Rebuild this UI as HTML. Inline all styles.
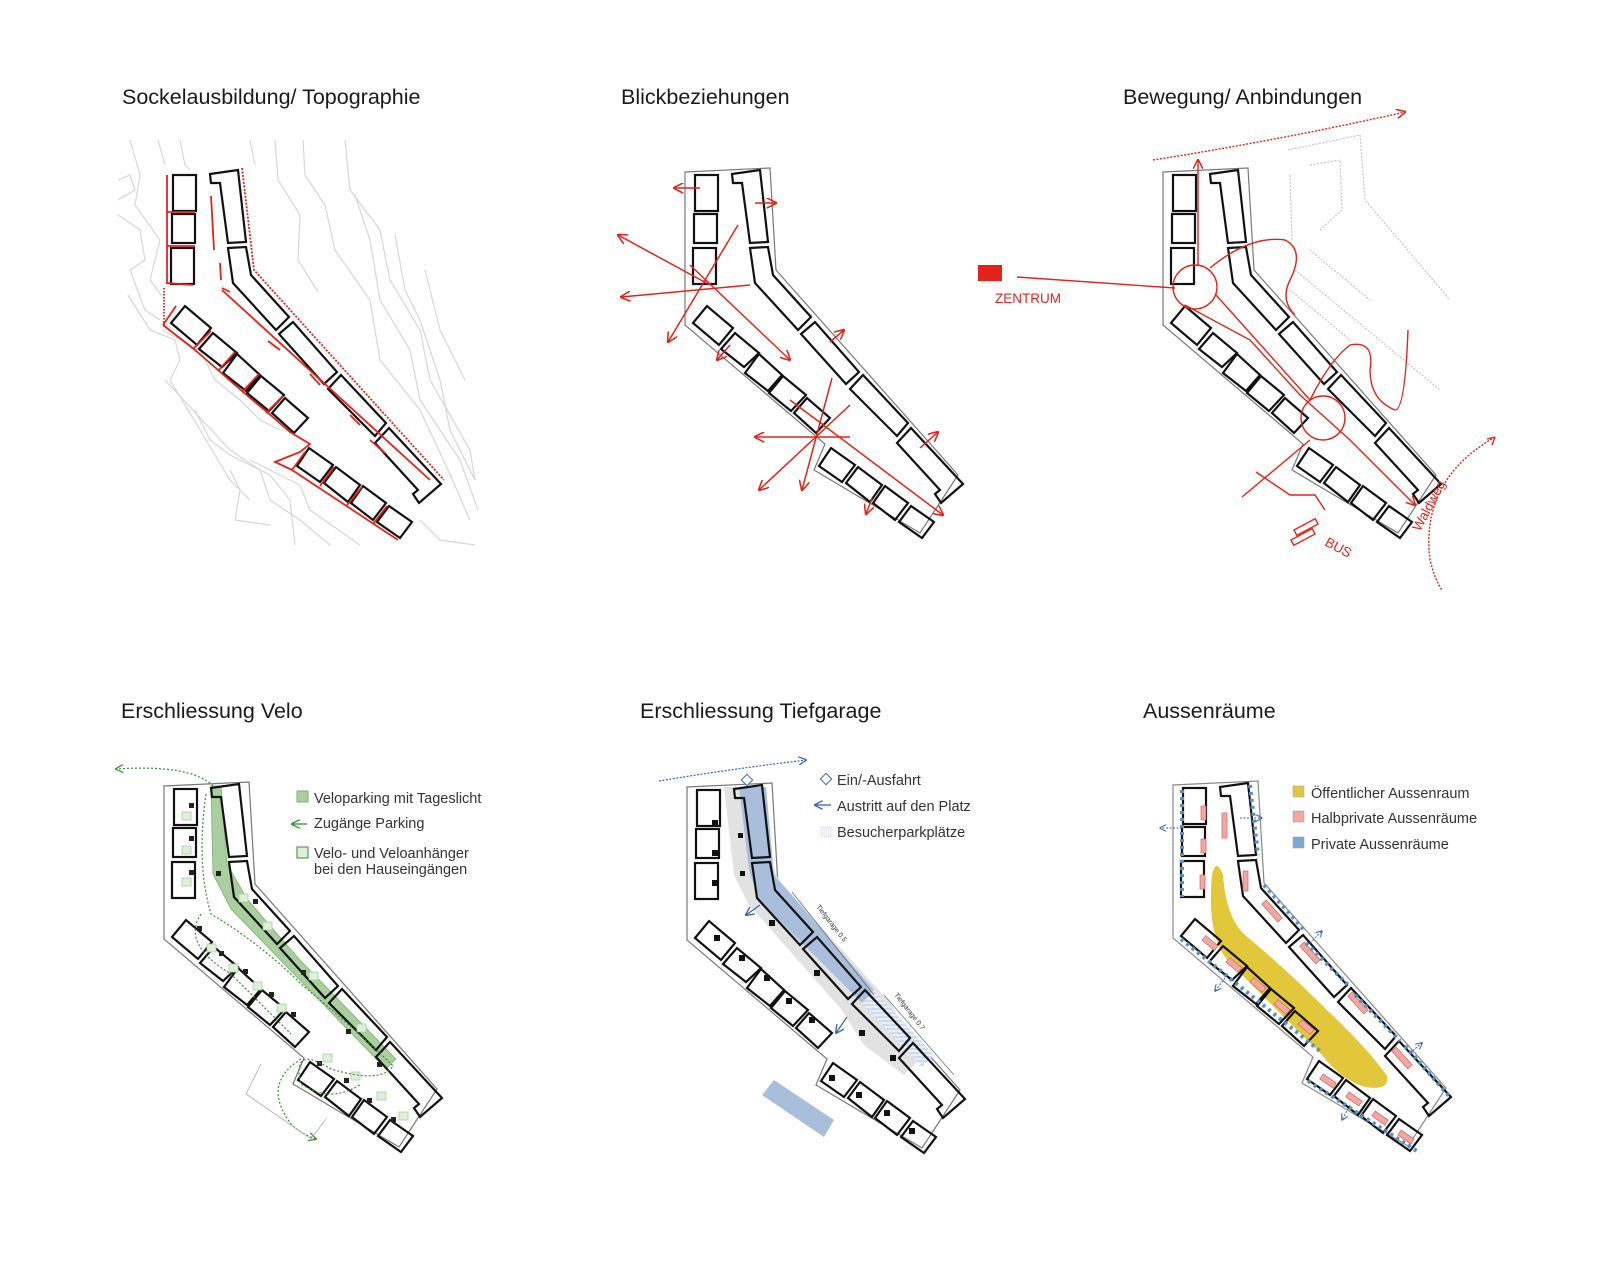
<!DOCTYPE html>
<html><head><meta charset="utf-8"><style>
html,body{margin:0;padding:0;background:#fff;}
svg{display:block;font-family:"Liberation Sans",sans-serif;}
.t{font-size:21.5px;fill:#1a1a1a;}
.l{font-size:14.5px;fill:#333;}
</style></head><body>
<svg width="1601" height="1280" viewBox="0 0 1601 1280" xmlns="http://www.w3.org/2000/svg">
<defs>
<g id="bld" fill="none" stroke="#111" stroke-width="2.2" stroke-linejoin="miter">
<rect x="173" y="175" width="23" height="36"/>
<rect x="172" y="214" width="23" height="29"/>
<rect x="171" y="248" width="23" height="36"/>
<polygon points="210,174 238,170 246,242 228,243 220,183 211,183"/>
<polygon points="228,248 246,247 251,275 289,317 276,330 233,283"/>
<polygon points="279,334 293,322 337,372 324,384"/>
<polygon points="328,389 341,375 386,423 375,436"/>
<polygon points="375,443 389,428 441,484 419,503 413,494 418,490"/>
<polygon points="171,323 185,306 211,328 197,345"/>
<polygon points="199,349 213,333 237,353 222,367"/>
<polygon points="223,373 237,354 260,375 246,391"/>
<polygon points="247,393 261,376 284,395 269,411"/>
<polygon points="272,413 285,398 308,418 294,433"/>
<polygon points="297,466 309,448 333,465 320,482"/>
<polygon points="324,483 336,467 360,485 348,502"/>
<polygon points="351,503 363,486 386,503 373,520"/>
<polygon points="377,522 389,506 412,522 400,538"/>
</g>
<polygon id="site" points="163,172 248,168 254,270 436,475 398,533 292,470 303,444 163,325" fill="none"/>
<marker id="ar" viewBox="0 0 10 10" refX="9" refY="5" markerWidth="7" markerHeight="7" orient="auto"><path d="M0,0 L10,5 L0,10" fill="none" stroke="#e3231b" stroke-width="1.5"/></marker>
<marker id="ab" viewBox="0 0 10 10" refX="9" refY="5" markerWidth="7" markerHeight="7" orient="auto"><path d="M0,0 L10,5 L0,10" fill="none" stroke="#3a64b0" stroke-width="1.5"/></marker>
<marker id="ag" viewBox="0 0 10 10" refX="9" refY="5" markerWidth="7" markerHeight="7" orient="auto"><path d="M0,0 L10,5 L0,10" fill="none" stroke="#3d8a35" stroke-width="1.5"/></marker>
<pattern id="hatch" width="4" height="4" patternUnits="userSpaceOnUse"><rect width="4" height="4" fill="#e8eef7"/><line x1="0" y1="2" x2="4" y2="2" stroke="#b9c8e2" stroke-width="1"/></pattern>
</defs>

<!-- titles -->
<text class="t" x="122" y="104">Sockelausbildung/ Topographie</text>
<text class="t" x="621" y="104">Blickbeziehungen</text>
<text class="t" x="1123" y="104">Bewegung/ Anbindungen</text>
<text class="t" x="121" y="718">Erschliessung Velo</text>
<text class="t" x="640" y="718">Erschliessung Tiefgarage</text>
<text class="t" x="1143" y="718">Aussenräume</text>

<!-- PANEL 1 -->
<g fill="none" stroke="#d6d6d6" stroke-width="1.2">
<path d="M130,140 L140,175 L135,205 L160,240 L150,280 L165,300"/>
<path d="M158,140 L165,165"/>
<path d="M180,140 L185,165 L190,170"/>
<path d="M250,140 L255,165"/>
<path d="M275,140 L278,180 L300,215 L298,260 L318,292"/>
<path d="M303,140 L305,175 L325,205 L335,250 L370,300 L380,360 L420,410 L448,470 L470,520"/>
<path d="M345,140 L350,190 L380,230 L390,280 L420,330 L430,380 L470,450 L475,480"/>
<path d="M355,195 L370,240 L380,300 L410,350 L420,400 L460,460 L478,510"/>
<path d="M395,235 L405,290 L420,320 L440,380 L450,430 L475,480"/>
<path d="M425,270 L440,330 L465,380"/>
<path d="M118,180 L130,175 L135,190 L118,200"/>
<path d="M118,215 L140,230 L145,260 L130,270 L145,310 L160,320"/>
<path d="M128,295 L150,330 L175,340 L180,360 L170,380 L200,430 L230,480 L250,500"/>
<path d="M165,380 L230,450 L260,470 L270,500 L300,520 L330,545"/>
<path d="M162,330 L200,350 L215,380 L240,400 L260,420 L280,430"/>
<path d="M195,410 L210,440 L230,455 L270,475 L290,500 L295,545"/>
<path d="M230,470 L240,490 L235,520 L270,525"/>
<path d="M250,460 L300,485 L310,510 L360,545"/>
<path d="M420,520 L440,540 L475,545"/>
</g>
<use href="#bld"/>
<g fill="none" stroke="#e3231b" stroke-width="1.8">
<path d="M167,175 V283 L193,285"/>
<path d="M167,212 H195"/><path d="M167,246 H195"/>
<path d="M164,288 V325" stroke-dasharray="1.5 1.5"/>
<path d="M163,325 L176,306"/>
<path d="M163,325 L195,350 L218,370 L243,392 L267,412 L290,432 L310,444 L300,452 L275,462 L292,470"/>
<path d="M193,349 L211,331 M218,371 L235,352 M242,392 L259,374 M266,413 L283,396"/>
<path d="M292,470 L305,452 M320,486 L334,467 M347,505 L362,487 M373,524 L387,506"/>
<path d="M292,470 L398,540"/>
<path d="M211,196 L214,250 M220,263 L221,280 M222,288 L230,292"/>
<path d="M222,290 L430,480" />
<path d="M268,341 L280,350 M310,374 L320,385 M350,415 L360,425 M370,440 L385,453"/>
<path d="M242,168 L254,270 L444,480" stroke-dasharray="2 1.5"/>
</g>

<!-- PANEL 2 -->
<g transform="translate(10,0)">
<use href="#site" transform="translate(512,0)" stroke="#777" stroke-width="1.2"/>
<use href="#bld" transform="translate(512,0)"/>
<g fill="none" stroke="#e3231b" stroke-width="1.5" marker-end="url(#ar)">
<line x1="700" y1="285" x2="608" y2="235"/>
<line x1="740" y1="285" x2="611" y2="297"/>
<line x1="728" y1="225" x2="658" y2="342"/>
<line x1="680" y1="265" x2="780" y2="360"/>
<line x1="690" y1="188" x2="664" y2="188"/>
<line x1="745" y1="203" x2="766" y2="203"/>
<line x1="720" y1="345" x2="707" y2="360"/>
<line x1="820" y1="342" x2="834" y2="330"/>
<line x1="840" y1="437" x2="745" y2="437"/>
<line x1="840" y1="405" x2="749" y2="490"/>
<line x1="822" y1="378" x2="792" y2="490"/>
<line x1="780" y1="400" x2="933" y2="515"/>
<line x1="910" y1="448" x2="928" y2="432"/>
<line x1="862" y1="498" x2="856" y2="514"/>
</g>
</g>

<!-- PANEL 3 -->
<g transform="translate(20,0)">
<g fill="none" stroke="#bbb" stroke-width="1" stroke-dasharray="2 1.5">
<path d="M1268,150 L1340,135 L1345,200 L1430,300"/>
<path d="M1290,165 L1320,160 L1322,210 L1300,230"/>
<path d="M1270,175 L1272,240"/>
<path d="M1275,270 L1420,390"/>
<path d="M1290,250 L1350,300"/>
<path d="M1270,290 L1330,340"/>
</g>
<use href="#site" transform="translate(980,0)" stroke="#777" stroke-width="1.2"/>
<use href="#bld" transform="translate(980,0)"/>
<rect x="958" y="265" width="24" height="16" fill="#e3231b"/>
<text x="975" y="303" font-size="13.5" fill="#e3231b">ZENTRUM</text>
<g fill="none" stroke="#e3231b" stroke-width="1.4">
<line x1="997" y1="277" x2="1155" y2="288"/>
<circle cx="1175" cy="287" r="22"/>
<circle cx="1303" cy="418" r="22"/>
<path d="M1178,265 V160" marker-end="url(#ar)"/>
<path d="M1133,160 Q1260,140 1385,112" stroke-dasharray="2 1.5" marker-end="url(#ar)"/>
<path d="M1190,268 Q1230,235 1265,240 Q1285,250 1270,280 Q1260,300 1275,315"/>
<path d="M1165,305 L1230,340 L1280,395 L1330,440 L1395,505" marker-end="url(#ar)"/>
<path d="M1196,295 L1290,400"/>
<path d="M1290,400 Q1310,360 1330,345 Q1355,340 1350,370 Q1350,400 1375,410 Q1385,410 1388,330"/>
<path d="M1222,497 L1290,440"/>
<path d="M1236,472 L1270,495 L1295,495 L1305,510"/>
<path d="M1475,437 Q1400,480 1410,560 Q1415,580 1422,590" stroke-dasharray="2 1.5"/>
<path d="M1475,437 l-3,8 m3,-8 l-8,2"/>
<rect x="-12" y="-3" width="24" height="6" transform="translate(1286,527) rotate(-28)"/>
<rect x="-12" y="-3" width="24" height="6" transform="translate(1283,537) rotate(-28)"/>
</g>
<text x="1304" y="545" font-size="13.5" fill="#e3231b" transform="rotate(28 1304 545)">BUS</text>
<text x="1400" y="532" font-size="13.5" fill="#e3231b" transform="rotate(-62 1400 532)">Waldweg</text>
</g>

<!-- PANEL 4 Velo -->
<g transform="translate(1,614)">
<use href="#site" stroke="#777" stroke-width="1.2"/>
<path d="M210,172 L220,172 L226,250 L246,285 L298,345 L395,445 L385,455 L288,355 L230,295 L212,260 Z" fill="#a9cf9f" stroke="#7fae74" stroke-width="0.8"/>
<use href="#bld"/>
<g fill="#222"><rect x="188" y="189" width="5" height="5"/><rect x="188" y="222" width="5" height="5"/><rect x="188" y="256" width="5" height="5"/><rect x="215" y="257" width="5" height="5"/><rect x="252" y="285" width="5" height="5"/><rect x="300" y="356" width="5" height="5"/><rect x="345" y="415" width="5" height="5"/><rect x="376" y="448" width="5" height="5"/><rect x="196" y="312" width="5" height="5"/><rect x="218" y="337" width="5" height="5"/><rect x="242" y="355" width="5" height="5"/><rect x="268" y="378" width="5" height="5"/><rect x="290" y="398" width="5" height="5"/><rect x="316" y="447" width="5" height="5"/><rect x="343" y="464" width="5" height="5"/><rect x="366" y="484" width="5" height="5"/><rect x="390" y="503" width="5" height="5"/></g>
<g fill="#e0efdb" stroke="#a9cf9f" stroke-width="0.8"><rect x="181" y="198" width="9" height="8"/><rect x="181" y="232" width="9" height="8"/><rect x="181" y="264" width="9" height="8"/><rect x="238" y="280" width="9" height="8"/><rect x="262" y="308" width="9" height="8"/><rect x="308" y="358" width="9" height="8"/><rect x="356" y="410" width="9" height="8"/><rect x="206" y="330" width="9" height="8"/><rect x="228" y="350" width="9" height="8"/><rect x="252" y="368" width="9" height="8"/><rect x="276" y="390" width="9" height="8"/><rect x="322" y="440" width="9" height="8"/><rect x="350" y="458" width="9" height="8"/><rect x="376" y="478" width="9" height="8"/><rect x="398" y="498" width="9" height="8"/></g>
<g fill="none" stroke="#3d8a35" stroke-width="1.2" stroke-dasharray="2 2">
<path d="M212,172 Q190,150 115,155" marker-end="url(#ag)"/>
<path d="M205,180 Q195,250 210,300 Q260,330 300,370 Q360,420 392,452 Q380,470 330,455 Q290,430 300,470 Q330,490 360,470"/>
<path d="M200,300 Q180,330 230,360 Q270,400 290,420"/>
<path d="M300,445 Q260,470 290,510 Q300,520 315,525" marker-end="url(#ag)"/>
</g>
<path d="M260,450 L245,480 L310,525 L325,505" fill="none" stroke="#aaa" stroke-width="0.8"/>
</g>
<g transform="translate(7,15)">
<rect x="290" y="776" width="11" height="11" fill="#a9cf9f" stroke="#7fae74"/>
<text class="l" x="307" y="788">Veloparking mit Tageslicht</text>
<path d="M300,809 H285" stroke="#3d8a35" stroke-width="1.3" marker-end="url(#ag)"/>
<text class="l" x="307" y="813">Zugänge Parking</text>
<rect x="290" y="832" width="11" height="11" fill="#e0efdb" stroke="#3d8a35"/>
<text class="l" x="307" y="843">Velo- und Veloanhänger</text>
<text class="l" x="307" y="859">bei den Hauseingängen</text>
</g>

<!-- PANEL 5 Tiefgarage -->
<g transform="translate(524,615)">
<use href="#site" stroke="#777" stroke-width="1.2"/>
<path d="M200,172 L235,172 L240,235 L255,265 L368,390 L395,445 L380,460 L340,430 L330,415 L318,395 L225,290 L210,260 Z" fill="#e2e2e2"/>
<path d="M215,172 L242,172 L250,260 L350,375 L338,388 L235,285 L225,255 Z" fill="#a9bedb"/>
<path d="M338,388 L350,375 L410,440 L398,452 Z" fill="url(#hatch)"/>
<use href="#bld"/>
<g fill="#111"><rect x="188" y="205" width="6" height="6"/><rect x="188" y="235" width="6" height="6"/><rect x="188" y="265" width="6" height="6"/><rect x="214" y="218" width="5" height="5"/><rect x="216" y="256" width="5" height="5"/><rect x="245" y="305" width="6" height="6"/><rect x="290" y="355" width="6" height="6"/><rect x="335" y="415" width="6" height="6"/><rect x="366" y="440" width="6" height="6"/><rect x="190" y="320" width="6" height="6"/><rect x="215" y="340" width="6" height="6"/><rect x="240" y="360" width="6" height="6"/><rect x="262" y="383" width="6" height="6"/><rect x="285" y="402" width="6" height="6"/><rect x="305" y="460" width="6" height="6"/><rect x="332" y="477" width="6" height="6"/><rect x="360" y="495" width="6" height="6"/><rect x="385" y="513" width="6" height="6"/></g>
<path d="M250,465 L238,480 L300,522 L310,505 Z" fill="#a9bedb"/>
<path d="M236,290 L222,300" stroke="#3a64b0" stroke-width="1.3" marker-end="url(#ab)"/>
<path d="M323,402 L312,418" stroke="#3a64b0" stroke-width="1.3" marker-end="url(#ab)"/>
<path d="M268,277 L350,380 M360,380 L430,460" stroke="#666" stroke-width="0.7"/>
<text x="292" y="292" font-size="7" fill="#333" transform="rotate(52 292 292)">Tiefgarage 0.5</text>
<text x="370" y="380" font-size="7" fill="#333" transform="rotate(52 370 380)">Tiefgarage 0.7</text>
<path d="M135,166 Q200,155 282,145" fill="none" stroke="#3a64b0" stroke-width="1.2" stroke-dasharray="2 1.5" marker-end="url(#ab)"/>
<rect x="-4" y="-4" width="8" height="8" transform="translate(223,165) rotate(45)" fill="#fff" stroke="#3a64b0"/>
</g>
<g transform="translate(28,17)">
<rect x="-4" y="-4" width="8" height="8" transform="translate(798,762) rotate(45)" fill="#fff" stroke="#3a64b0"/>
<text class="l" x="809" y="768">Ein/-Ausfahrt</text>
<path d="M803,788 H787" stroke="#3a64b0" stroke-width="1.3" marker-end="url(#ab)"/>
<text class="l" x="809" y="794">Austritt auf den Platz</text>
<rect x="793" y="810" width="10" height="10" fill="#f0f3f9" stroke="#c8d4e8" stroke-dasharray="1 1"/>
<text class="l" x="809" y="820">Besucherparkplätze</text>
</g>

<!-- PANEL 6 Aussenräume -->
<g transform="translate(1010,613)">
<use href="#site" stroke="#888" stroke-width="1.2"/>
<path d="M202,262 Q206,244 213,262 Q216,305 235,322 Q275,355 320,400 Q360,438 377,463 Q380,478 355,474 Q330,466 312,442 Q265,395 220,350 Q196,325 202,262 Z" fill="#e3c73b"/>
<use href="#bld" stroke-width="1"/>
<g fill="#f2a7a0" stroke="#c66" stroke-width="0.7">
<rect x="191" y="193" width="5" height="14"/><rect x="191" y="226" width="5" height="14"/><rect x="190" y="262" width="5" height="14"/>
<rect x="212" y="200" width="5" height="25"/><rect x="233" y="258" width="5" height="20"/>
<rect x="-12" y="-3" width="24" height="6" transform="translate(262,298) rotate(48)"/>
<rect x="-12" y="-3" width="24" height="6" transform="translate(300,340) rotate(48)"/>
<rect x="-12" y="-3" width="24" height="6" transform="translate(348,390) rotate(48)"/>
<rect x="-12" y="-3" width="24" height="6" transform="translate(392,445) rotate(48)"/>
<rect x="-8" y="-3" width="16" height="6" transform="translate(200,330) rotate(40)"/>
<rect x="-8" y="-3" width="16" height="6" transform="translate(224,352) rotate(40)"/>
<rect x="-8" y="-3" width="16" height="6" transform="translate(248,372) rotate(40)"/>
<rect x="-8" y="-3" width="16" height="6" transform="translate(272,394) rotate(40)"/>
<rect x="-8" y="-3" width="16" height="6" transform="translate(296,414) rotate(40)"/>
<rect x="-8" y="-3" width="16" height="6" transform="translate(318,468) rotate(35)"/>
<rect x="-8" y="-3" width="16" height="6" transform="translate(344,486) rotate(35)"/>
<rect x="-8" y="-3" width="16" height="6" transform="translate(370,505) rotate(35)"/>
<rect x="-8" y="-3" width="16" height="6" transform="translate(396,524) rotate(35)"/>
</g>
<g stroke="#5a8fc4" stroke-width="4" stroke-dasharray="3 4" fill="none">
<path d="M172,177 V284"/><path d="M240,172 L248,242"/><path d="M254,272 L295,318 M296,330 L340,374 M345,382 L390,428 M395,433 L440,484"/>
<path d="M171,326 L310,438"/><path d="M298,468 L410,540"/>
</g>
<g stroke="#3a64b0" stroke-width="1" stroke-dasharray="2 1.5" fill="none">
<path d="M172,215 H150" marker-end="url(#ab)"/><path d="M230,205 H252" marker-end="url(#ab)"/>
<path d="M300,330 L312,318" marker-end="url(#ab)"/><path d="M215,365 L205,378" marker-end="url(#ab)"/>
<path d="M400,440 L412,430" marker-end="url(#ab)"/><path d="M340,492 L332,507" marker-end="url(#ab)"/>
</g>
</g>
<g transform="translate(47,17)">
<rect x="1246" y="769" width="11" height="11" fill="#e3c73b" stroke="#999" stroke-width="0.5"/>
<text class="l" x="1264" y="781">Öffentlicher Aussenraum</text>
<rect x="1246" y="794" width="11" height="11" fill="#f2a7a0" stroke="#999" stroke-width="0.5"/>
<text class="l" x="1264" y="806">Halbprivate Aussenräume</text>
<rect x="1246" y="820" width="11" height="11" fill="#7aaad4" stroke="#999" stroke-width="0.5"/>
<text class="l" x="1264" y="832">Private Aussenräume</text>
</g>
</svg>
</body></html>
